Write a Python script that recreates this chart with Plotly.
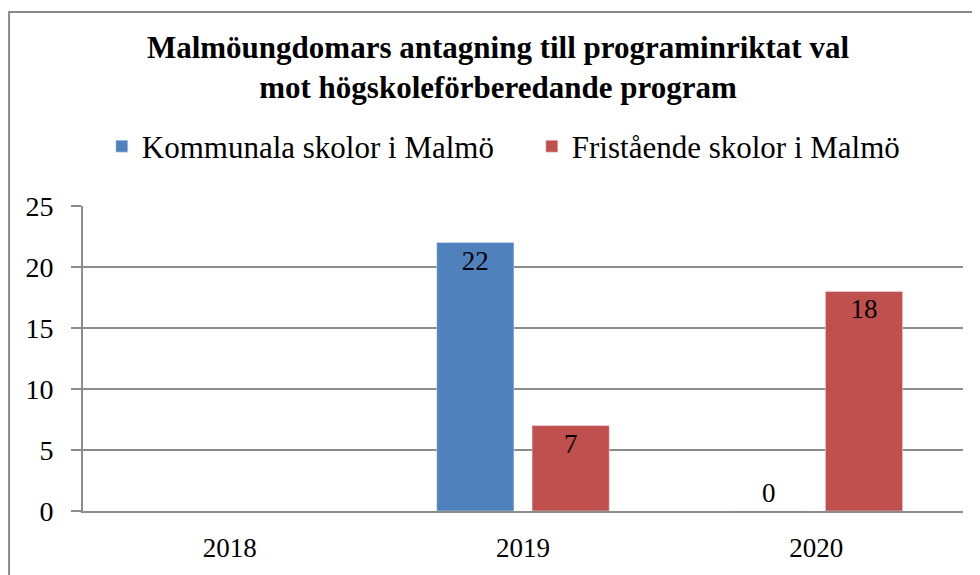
import plotly.graph_objects as go

# data
years = ['2018', '2019', '2020']
kommunala = [None, 22, 0]
fristaende = [None, 7, 18]
series_names = ['Kommunala skolor i Malmö', 'Fristående skolor i Malmö']
y_ticks = [0, 5, 10, 15, 20, 25]

serif = 'Liberation Serif, Times New Roman, serif'
grid_col = '#8c8c8c'


def label_pos(vals):
    # put zero values above the baseline, hide missing ones
    return ['none' if v is None else ('outside' if v == 0 else 'inside') for v in vals]


fig = go.Figure()
fig.add_trace(go.Bar(x=years, y=kommunala, name=series_names[0], marker_color='#4f81bd',
                     text=kommunala, textposition=label_pos(kommunala), insidetextanchor='end',
                     textfont=dict(family=serif, size=27, color='black'), cliponaxis=False))
fig.add_trace(go.Bar(x=years, y=fristaende, name=series_names[1], marker_color='#c0504d',
                     text=fristaende, textposition=label_pos(fristaende), insidetextanchor='end',
                     textfont=dict(family=serif, size=27, color='black'), cliponaxis=False))

# outer chart border
fig.add_shape(type='rect', xref='paper', yref='paper', x0=-0.084, x1=1.2, y0=-0.4, y1=1.636,
              line=dict(color='#8a8a8a', width=2), fillcolor='rgba(0,0,0,0)', layer='below')

fig.update_layout(
    width=980, height=575,
    margin=dict(l=75, r=25, t=198, b=72),
    paper_bgcolor='white', plot_bgcolor='white',
    font=dict(family=serif, size=27, color='black'),
    title=dict(text='<b>Malmöungdomars antagning till programinriktat val<br>mot högskoleförberedande program</b>',
               x=0.5, xanchor='center', y=0.913, yanchor='middle', font=dict(size=31, family=serif)),
    legend=dict(orientation='h', x=0.51, xanchor='center', y=1.195, yanchor='middle',
                font=dict(size=31, family=serif), itemwidth=30, entrywidth=385,
                bgcolor='rgba(0,0,0,0)'),
    barmode='group', bargap=0.35, bargroupgap=0.19,
    showlegend=True,
)
fig.update_xaxes(showline=True, linecolor=grid_col, linewidth=2, ticks='', showgrid=False,
                 tickfont=dict(size=27), ticklabelstandoff=12)
fig.update_yaxes(range=[0, 25], tickvals=y_ticks, showgrid=True, gridcolor=grid_col, gridwidth=2,
                 showline=True, linecolor=grid_col, linewidth=2, ticks='outside', ticklen=10,
                 tickcolor=grid_col, tickwidth=2, zeroline=False, tickfont=dict(size=28),
                 ticklabelstandoff=12)

fig.write_html('out.html')
